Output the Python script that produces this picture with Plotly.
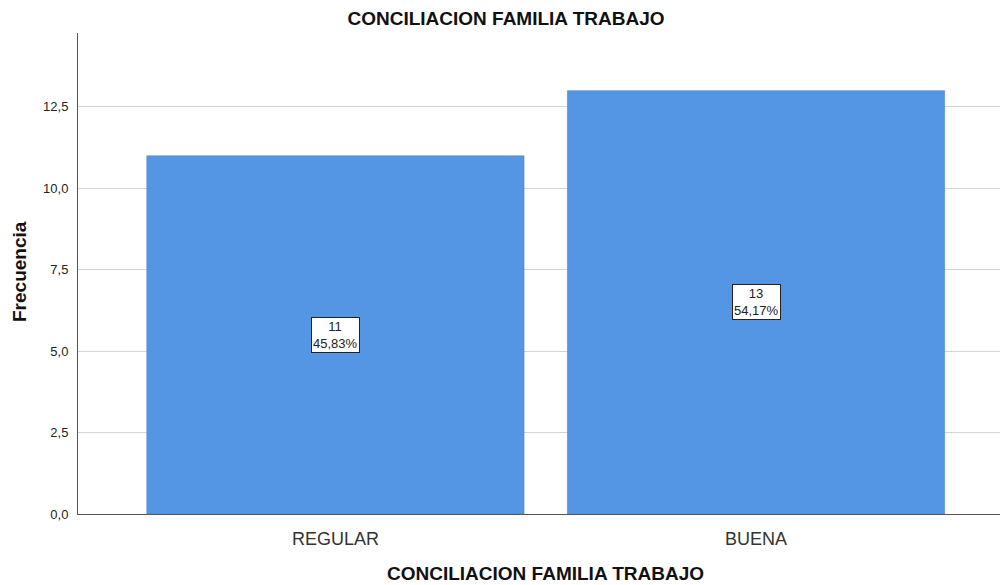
import plotly.graph_objects as go

categories = ["REGULAR", "BUENA"]
counts = [11, 13]
percent_labels = ["45,83%", "54,17%"]
y_ticks = [0, 2.5, 5, 7.5, 10, 12.5]
y_tick_labels = ["0,0", "2,5", "5,0", "7,5", "10,0", "12,5"]

font = "Liberation Sans, Arial, sans-serif"

fig = go.Figure()
fig.add_trace(go.Bar(
    x=categories, y=counts, width=0.897,
    marker=dict(color="#5596E4", line=dict(color="#4a7fc0", width=0.5)),
    hoverinfo="skip",
))

for c, v, p in zip(categories, counts, percent_labels):
    fig.add_annotation(
        x=c, y=v / 2, xref="x", yref="y",
        text=f"{v}<br>{p}", showarrow=False,
        font=dict(family=font, size=13, color="#222"),
        bgcolor="white", bordercolor="#222", borderwidth=1, borderpad=1,
    )

# axis titles as annotations for exact placement
fig.add_annotation(
    x=(545 - 78) / 922, y=(514 - 573) / 481, xref="paper", yref="paper",
    text="<b>CONCILIACION FAMILIA TRABAJO</b>", showarrow=False,
    xanchor="center", yanchor="middle",
    font=dict(family=font, size=19, color="#111"),
)
fig.add_annotation(
    x=(19 - 78) / 922, y=(514 - 272) / 481, xref="paper", yref="paper",
    text="<b>Frecuencia</b>", showarrow=False, textangle=-90,
    xanchor="center", yanchor="middle",
    font=dict(family=font, size=19, color="#111"),
)

fig.update_layout(
    width=1000, height=585,
    margin=dict(l=78, r=0, t=33, b=71, autoexpand=False),
    paper_bgcolor="white", plot_bgcolor="white",
    title=dict(text="<b>CONCILIACION FAMILIA TRABAJO</b>", x=0.506, xanchor="center",
               xref="container", yref="container",
               y=1 - 18 / 585, yanchor="middle",
               font=dict(family=font, size=19, color="#111")),
    showlegend=False,
)
fig.update_xaxes(
    range=[-0.612, 1.58], showgrid=False, showline=True, linecolor="#555", linewidth=1,
    ticks="", ticklabelstandoff=8, tickfont=dict(family=font, size=18, color="#333"),
)
fig.update_yaxes(
    range=[0, 14.77], tickvals=y_ticks, ticktext=y_tick_labels,
    showgrid=True, gridcolor="#d4d4d4", gridwidth=1,
    showline=True, linecolor="#555", linewidth=1, zeroline=False,
    ticks="", ticklabelstandoff=6,
    tickfont=dict(family=font, size=13, color="#222"),
)

fig.write_html("out.html", config={"displayModeBar": False},
               post_script="document.body.style.margin='0';")
